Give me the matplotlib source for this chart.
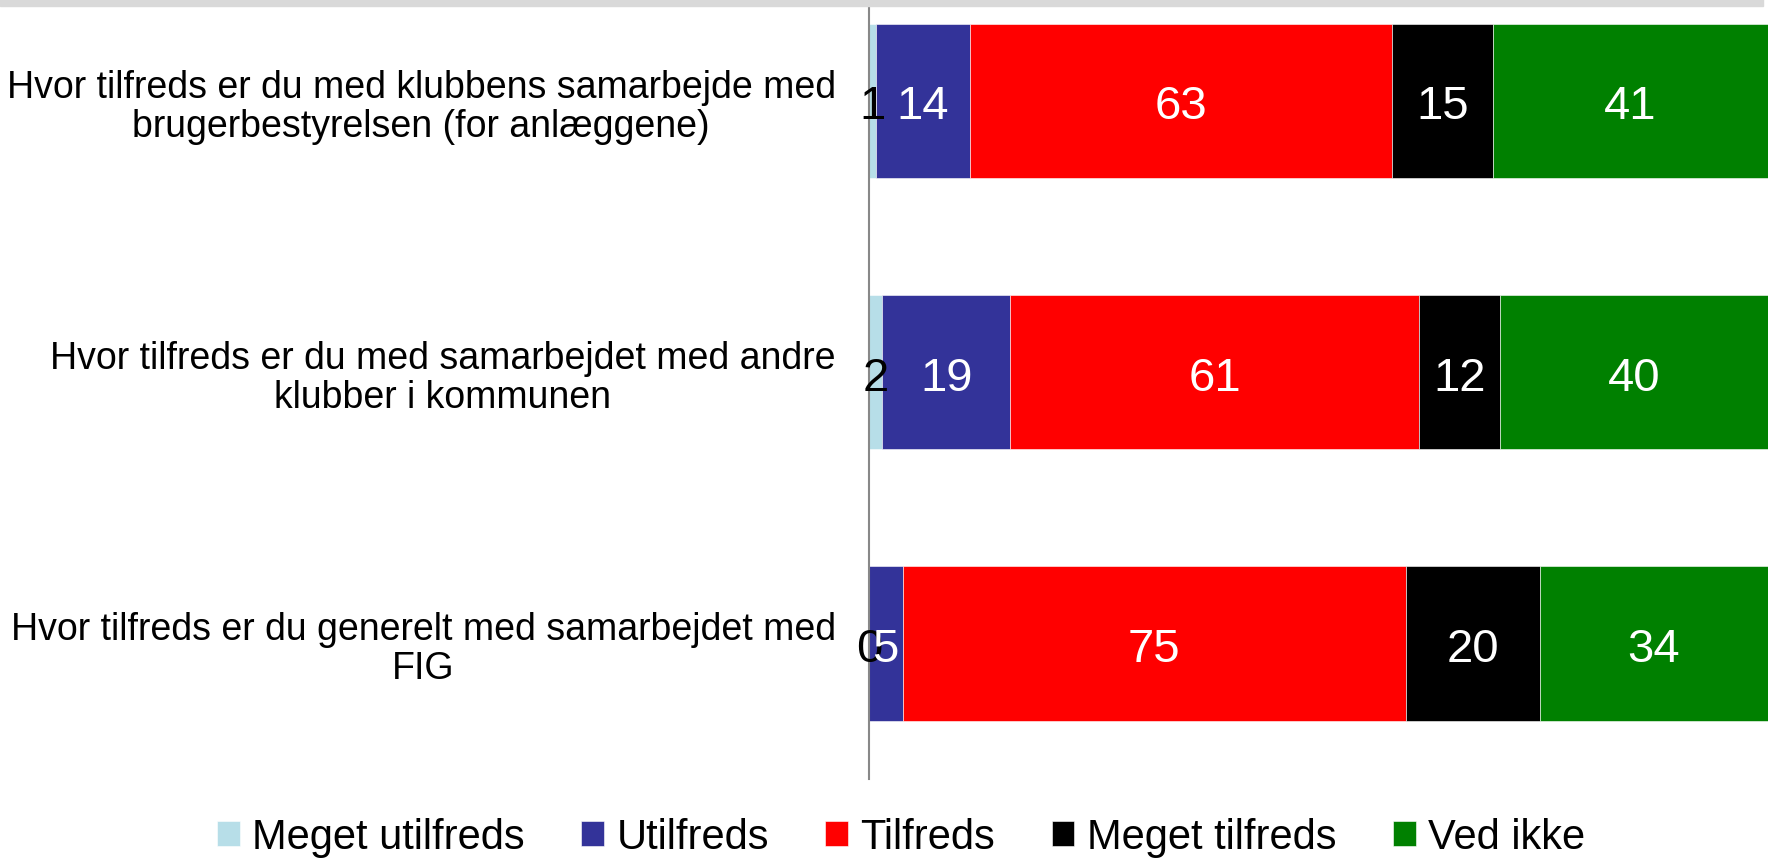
import matplotlib.pyplot as plt
from matplotlib.patches import Rectangle

plt.rcParams['font.family'] = ['Liberation Sans', 'DejaVu Sans']

# Data
questions = [
    'Hvor tilfreds er du med klubbens samarbejde med\nbrugerbestyrelsen (for anlæggene)',
    'Hvor tilfreds er du med samarbejdet med andre\nklubber i kommunen',
    'Hvor tilfreds er du generelt med samarbejdet med\nFIG',
]
categories = ['Meget utilfreds', 'Utilfreds', 'Tilfreds', 'Meget tilfreds', 'Ved ikke']
meget_utilfreds = [1, 2, 0]
utilfreds = [14, 19, 5]
tilfreds = [63, 61, 75]
meget_tilfreds = [15, 12, 20]
ved_ikke = [41, 40, 34]

series = [meget_utilfreds, utilfreds, tilfreds, meget_tilfreds, ved_ikke]
colors = ['#b7dee8', '#333399', '#ff0000', '#000000', '#008000']
label_colors = ['black', 'white', 'white', 'white', 'white']

fig = plt.figure(figsize=(17.7, 8.62), dpi=100)
ax = fig.add_axes([869 / 1770, 1 - 780 / 862, 899 / 1770, 773 / 862])

# grey band along the top
fig.patches.append(Rectangle((0, 1 - 7 / 862), 1763 / 1770, 7 / 862,
                             transform=fig.transFigure, color='#d9d9d9',
                             zorder=0))

ypos = list(range(len(questions)))
left = [0] * len(questions)
for vals, col, lc, name in zip(series, colors, label_colors, categories):
    ax.barh(ypos, vals, left=left, height=0.57, color=col,
            edgecolor='white', linewidth=0.4, label=name)
    for y, v, l in zip(ypos, vals, left):
        ax.text(l + v / 2, y + 0.02, str(v), ha='center', va='center',
                color=lc, fontsize=34)
    left = [a + b for a, b in zip(left, vals)]

ax.set_xlim(0, 134)
ax.set_ylim(2.5, -0.35)
ax.set_yticks(ypos)
ax.set_yticklabels(questions, fontsize=27, linespacing=1.1)
for lab in ax.get_yticklabels():
    lab.set_multialignment('center')
ax.tick_params(axis='y', length=0, pad=24)
ax.set_xticks([])
for s in ['top', 'right', 'bottom']:
    ax.spines[s].set_visible(False)
ax.spines['left'].set_color('#888888')
ax.spines['left'].set_linewidth(1.5)

fig.legend(loc='center', bbox_to_anchor=(0.509, 1 - 838 / 862), ncol=5,
           frameon=False, fontsize=30, handlelength=0.55, handleheight=0.55,
           handletextpad=0.3, columnspacing=1.35, borderaxespad=0)

fig.savefig('out.png', dpi=100)
